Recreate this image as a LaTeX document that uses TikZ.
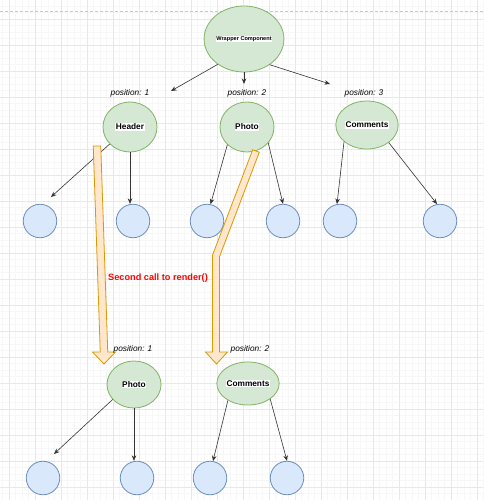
\documentclass[tikz,border=0pt]{standalone}
\usepackage{fontspec}
\setmainfont{Liberation Sans}
\usetikzlibrary{shapes.geometric,arrows.meta}
\definecolor{gfill}{HTML}{D5E8D4}
\definecolor{gline}{HTML}{82B366}
\definecolor{bfill}{HTML}{DAE8FC}
\definecolor{bline}{HTML}{6C8EBF}
\definecolor{ofill}{HTML}{FFE6CC}
\definecolor{oline}{HTML}{D79B00}
\definecolor{arrcol}{HTML}{333333}
\definecolor{gridmaj}{HTML}{E8E8E8}
\definecolor{gridmin}{HTML}{F7F7F7}
\definecolor{pagebrk}{HTML}{C8C8C8}
\newcommand{\lbl}[1]{{\setlength{\fboxsep}{0.6pt}\colorbox{white}{#1}}}
\tikzset{
  gnode/.style={ellipse, draw=gline, fill=gfill, line width=0.8pt, inner sep=0pt,
    font=\fontsize{8.3}{9}\selectfont\bfseries},
  bnode/.style={circle, draw=bline, fill=bfill, line width=0.8pt, inner sep=0pt, minimum size=33.5pt},
  arr/.style={draw=arrcol, line width=0.6pt, -{Stealth[length=5.5pt,width=4.5pt]}},
  poslbl/.style={font=\fontsize{8.3}{9}\selectfont\itshape, inner sep=0pt},
  blockarrow/.style={draw=oline, fill=ofill, line width=0.8pt, line join=miter},
}
\begin{document}
\begin{tikzpicture}[x=1pt,y=-1pt]
\useasboundingbox (0,0) rectangle (483,500);
\fill[white] (0,0) rectangle (483,500);
% grid
\foreach \i in {0,...,74} {
  \draw[gridmin, line width=0.5pt] ({2.5+6.5*\i},0) -- ({2.5+6.5*\i},500);
}
\foreach \i in {0,...,77} {
  \draw[gridmin, line width=0.5pt] (0,{-0.5+6.5*\i}) -- (483,{-0.5+6.5*\i});
}
\foreach \i in {0,...,18} {
  \draw[gridmaj, line width=0.7pt] ({9+26*\i},0) -- ({9+26*\i},500);
}
\foreach \i in {0,...,18} {
  \draw[gridmaj, line width=0.7pt] (0,{19+26*\i}) -- (483,{19+26*\i});
}
\draw[pagebrk, line width=0.7pt, dash pattern=on 3pt off 2pt] (0,11) -- (483,11);

% level 1
\node[gnode, minimum width=66pt, minimum height=66pt] (wrap) at (244,39)
  {\lbl{\fontsize{5.6}{6}\selectfont\bfseries Wrapper Component}};

% level 2
\node[gnode, minimum width=54pt, minimum height=50pt] (header) at (130,127) {\lbl{Header}};
\node[gnode, minimum width=54pt, minimum height=50pt] (photo) at (247,127) {\lbl{Photo}};
\node[gnode, minimum width=60pt, minimum height=48pt] (comm) at (367,125) {\lbl{Comments}};

\node[poslbl] (p1) at (130,93) {position: 1};
\node[poslbl] (p2) at (247,93) {position: 2};
\node[poslbl] (p3) at (364,93) {position: 3};

\coordinate (a1) at (171,91);
\coordinate (a2) at (244,84);
\coordinate (a3) at (330,84);
\draw[arr] (wrap.224) -- (a1);
\draw[arr] (wrap.south) -- (a2);
\draw[arr] (wrap.315) -- (a3);

% level 2 children
\node[bnode] (c1) at (40,221) {};
\node[bnode] (c2) at (133,221) {};
\node[bnode] (c3) at (207,221) {};
\node[bnode] (c4) at (283,221) {};
\node[bnode] (c5) at (340,221) {};
\node[bnode] (c6) at (440,221) {};

\coordinate (b1) at (51,197);
\draw[arr] (header.220) -- (b1);
\draw[arr] (header.south) -- (header.south |- c2.north);
\draw[arr] (photo.222) -- (c3.78);
\draw[arr] (photo.323) -- (c4.north);
\draw[arr] (comm.216) -- (c5.100);
\draw[arr] (comm.321) -- (c6.100);

% block arrows
\draw[blockarrow] (93.25,146) -- (100.25,352) -- (92.5,352) -- (104,364) -- (115.5,352)
  -- (107.75,352) -- (100.75,146) -- cycle;
\draw[blockarrow] (252.7,149.75) -- (212.5,255.2) -- (212.5,352) -- (205.5,352) -- (216.5,364)
  -- (227.5,352) -- (219.5,352) -- (219.5,256.7) -- (259.3,152.25) -- cycle;

\node[font=\fontsize{9.2}{10}\selectfont\bfseries, text=red, inner sep=0pt] (second) at (158,278)
  {Second call to render()};

% level 3
\node[poslbl] (q1) at (133,349) {position: 1};
\node[poslbl] (q2) at (250,349) {position: 2};
\node[gnode, minimum width=54pt, minimum height=47pt] (photo3) at (134,384.5) {\lbl{Photo}};
\node[gnode, minimum width=50pt, minimum height=43pt] (comm3) at (248,383.5) {\lbl{Comments}};

\node[bnode] (d1) at (43,478) {};
\node[bnode] (d2) at (137,478) {};
\node[bnode] (d3) at (210,478) {};
\node[bnode] (d4) at (287,478) {};

\coordinate (e1) at (54,454);
\draw[arr] (photo3.215) -- (e1);
\draw[arr] (photo3.south) -- (photo3.south |- d2.north);
\draw[arr] (comm3.220) -- (d3.80);
\draw[arr] (comm3.325) -- (d4.north);
\end{tikzpicture}
\end{document}
